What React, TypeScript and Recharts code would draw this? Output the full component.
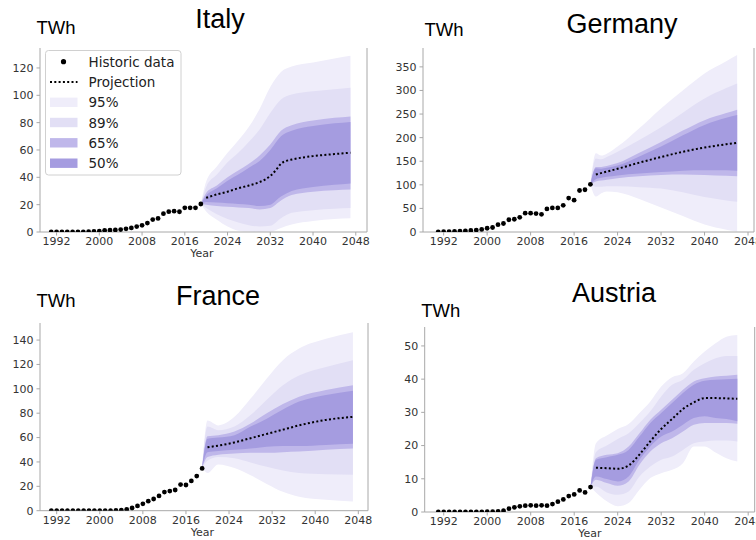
import React from 'react';
import { ComposedChart, Area, Line, XAxis, YAxis, ReferenceLine } from 'recharts';

// ---------- shared categories ----------
const HIST_YEARS = [1991, 1992, 1993, 1994, 1995, 1996, 1997, 1998, 1999, 2000, 2001, 2002, 2003, 2004, 2005, 2006, 2007, 2008, 2009, 2010, 2011, 2012, 2013, 2014, 2015, 2016, 2017, 2018, 2019];
const X_TICKS = [1992, 2000, 2008, 2016, 2024, 2032, 2040, 2048];
const LEGEND_LABELS = ['Historic data', 'Projection', '95%', '89%', '65%', '50%'];

// ---------- Italy ----------
const IT_HIST = [0, 0, 0, 0, 0, 0.05, 0.1, 0.2, 0.4, 0.6, 1.2, 1.4, 1.5, 1.8, 2.3, 3.0, 4.0, 4.9, 6.5, 9.1, 9.9, 13.4, 14.9, 15.2, 14.8, 17.7, 17.7, 17.7, 20.5];
const IT_BAND_YEARS = [2019, 2020, 2022, 2024, 2026, 2028, 2030, 2032, 2034, 2036, 2040, 2044, 2047];
const IT_HI95 = [20.5, 37, 48, 58, 67, 77, 90, 106, 117, 121, 124, 127, 129];
const IT_HI89 = [20.5, 33, 42, 51, 58, 66, 75, 87, 97, 100.5, 103, 104.5, 105.5];
const IT_HI65 = [20.5, 28.5, 34, 40, 45, 50, 56, 64, 74, 78, 81.5, 83.5, 84.5];
const IT_HI50 = [20.5, 26.5, 32, 37.5, 42, 47, 52, 60, 70, 74, 77.5, 79.5, 80.5];
const IT_LO50 = [20.5, 22, 21.5, 21, 20.5, 20, 19, 20, 26, 30, 33, 34.5, 35.5];
const IT_LO65 = [20.5, 20, 19, 18.5, 18, 17.5, 16.5, 17.5, 23, 27, 29.5, 30.5, 31];
const IT_LO89 = [20.5, 17.5, 13, 9.5, 7, 5, 4, 4.5, 10, 14, 16, 17, 17.5];
const IT_LO95 = [20.5, 15, 9, 4, 1, 0.3, 0, 0.3, 3, 5.5, 8, 9.5, 10];
const IT_PROJ_YEARS = [2020, 2022, 2024, 2026, 2028, 2030, 2032, 2033, 2034, 2035, 2036, 2040, 2044, 2047];
const IT_PROJ = [25, 27.5, 29.5, 32, 34, 36.5, 41, 45, 50, 52, 53, 55.5, 57, 58];
const IT_Y_TICKS = [0, 20, 40, 60, 80, 100, 120];

// ---------- Germany ----------
const DE_HIST = [0.3, 0.5, 1, 1.5, 2, 2.5, 3.2, 4, 5.5, 8, 9.5, 15.5, 18, 26, 27, 31, 40, 40, 39, 37.5, 49, 51, 51, 56.5, 72, 67.5, 88, 89.5, 101];
const DE_BAND_YEARS = [2019, 2020, 2021, 2022, 2024, 2028, 2032, 2036, 2040, 2044, 2046];
const DE_HI95 = [101, 167, 162, 166, 181, 220, 262, 300, 336, 362, 375];
const DE_HI89 = [101, 156, 154, 159, 170, 195, 222, 253, 283, 305, 315];
const DE_HI65 = [101, 138, 138, 140, 146, 168, 191, 215, 237, 252, 259];
const DE_HI50 = [101, 135, 134, 136, 141, 160, 181, 205, 227, 242, 248];
const DE_LO50 = [101, 112, 115, 117, 120, 124, 127, 130, 131, 131, 130];
const DE_LO65 = [101, 107, 109, 111, 114, 118, 121, 122, 121, 119, 118];
const DE_LO89 = [101, 96, 96, 97, 97, 95, 92, 84, 74, 67, 64];
const DE_LO95 = [101, 75, 82, 86, 84, 70, 52, 34, 16, 5, 1];
const DE_PROJ_YEARS = [2020, 2022, 2024, 2028, 2032, 2036, 2040, 2044, 2046];
const DE_PROJ = [122, 128, 134, 147, 159, 170, 179, 186, 189];
const DE_Y_TICKS = [0, 50, 100, 150, 200, 250, 300, 350];

// ---------- France ----------
const FR_HIST = [0, 0, 0, 0, 0, 0, 0, 0, 0, 0, 0, 0, 0.2, 0.4, 1.1, 2.2, 3.9, 5.6, 7.8, 9.6, 12.1, 15.3, 16.1, 17.0, 21.4, 21.1, 24.4, 28.4, 34.7];
const FR_BAND_YEARS = [2019, 2020, 2022, 2025, 2028, 2031, 2034, 2037, 2042, 2047];
const FR_HI95 = [35, 74, 70, 77, 92, 108.5, 123.5, 133, 141, 146.5];
const FR_HI89 = [35, 69, 66, 69, 78.5, 91, 103, 111, 118, 123.5];
const FR_HI65 = [35, 61, 62, 65, 71.5, 80, 87.5, 93.5, 99, 103];
const FR_HI50 = [35, 59, 60, 62, 69, 75.5, 83, 89.5, 95, 98.5];
const FR_LO50 = [35, 48, 49, 50, 51, 52.5, 53, 53, 54, 55];
const FR_LO65 = [35, 44, 46, 47, 47.5, 47.5, 48, 48.5, 50, 51];
const FR_LO89 = [35, 41, 44, 43, 39.5, 36, 33, 31, 30, 29.5];
const FR_LO95 = [35, 31, 38, 35, 29, 22, 15.5, 11.5, 9, 7.5];
const FR_PROJ_YEARS = [2020, 2025, 2028, 2031, 2034, 2037, 2042, 2047];
const FR_PROJ = [52, 56, 59.5, 63, 66.5, 70, 74.5, 77];
const FR_Y_TICKS = [0, 20, 40, 60, 80, 100, 120, 140];

// ---------- Austria ----------
const AT_HIST = [0, 0, 0, 0, 0, 0, 0.05, 0.05, 0.06, 0.07, 0.1, 0.2, 0.4, 1.0, 1.4, 1.7, 1.9, 2.0, 1.9, 2.0, 1.9, 2.4, 3.1, 3.8, 4.8, 5.3, 6.5, 5.9, 7.5];
const AT_BAND_YEARS = [2019, 2020, 2022, 2024, 2026, 2028, 2030, 2032, 2034, 2036, 2038, 2040, 2042, 2044, 2046];
const AT_HI95 = [7.5, 20.7, 23, 25, 26.5, 29.8, 33.3, 37.8, 40.6, 41.8, 45.3, 48.3, 50.8, 52.8, 53.3];
const AT_HI89 = [7.5, 18, 20, 22, 23.7, 26.8, 30.3, 34.8, 38.3, 39.8, 42.8, 44.8, 46.3, 47, 47];
const AT_HI65 = [7.5, 16.2, 17.2, 17.7, 19.7, 23.7, 27.8, 30.8, 33.8, 36.8, 39.3, 40.3, 40.8, 41, 41.3];
const AT_HI50 = [7.5, 15.7, 16.5, 17.2, 18.7, 22.7, 26.8, 29.8, 32.8, 35.8, 38.3, 39.5, 39.8, 40, 40.1];
const AT_LO50 = [7.5, 10.7, 9.9, 9.2, 10.7, 15.7, 19.7, 22.7, 24.2, 26.3, 28.3, 28.8, 28.3, 28, 27.3];
const AT_LO65 = [7.5, 9.7, 8.7, 7.9, 9.2, 14.2, 18.2, 20.7, 22.2, 24.2, 26.3, 26.8, 26.8, 26.8, 26.6];
const AT_LO89 = [7.5, 7.7, 5.9, 5.2, 6.2, 10.7, 13.7, 15.7, 16.7, 18.7, 20.7, 21.2, 21.5, 21.5, 21.2];
const AT_LO95 = [7.5, 5.9, 3.2, 1.7, 2.7, 6.7, 10.2, 11.7, 12.7, 14.7, 19.7, 19.7, 17.9, 16.2, 15.2];
const AT_PROJ_YEARS = [2020, 2022, 2024, 2026, 2028, 2030, 2032, 2034, 2036, 2038, 2040, 2042, 2044, 2046];
const AT_PROJ = [13.3, 13.2, 13, 14, 17.3, 21.3, 25, 28, 31, 33, 34.3, 34.3, 34.2, 34.1];
const AT_Y_TICKS = [0, 10, 20, 30, 40, 50];

// ---------- styles ----------
const C95 = '#efedfa';
const C89 = '#e2dff5';
const C65 = '#bfb7ea';
const C50 = '#a59ce0';
const SPINE = '#a8a8a8';
const TICK_TEXT = '#333333';

type PanelCfg = {
  left: number; top: number; width: number; height: number;
  margin: { top: number; right: number; bottom: number; left: number };
  yWidth: number; xHeight: number;
  xDomain: [number, number]; yDomain: [number, number]; yTicks: number[];
  hist: number[]; bandYears: number[];
  hi95: number[]; hi89: number[]; hi65: number[]; hi50: number[];
  lo50: number[]; lo65: number[]; lo89: number[]; lo95: number[];
  projYears: number[]; proj: number[];
};

const PANELS: PanelCfg[] = [
  {
    left: 0, top: 0, width: 378, height: 270,
    margin: { top: 48, right: 11, bottom: 0, left: 0 }, yWidth: 40, xHeight: 38,
    xDomain: [1988.9, 2050.1], yDomain: [0, 134.6], yTicks: IT_Y_TICKS,
    hist: IT_HIST, bandYears: IT_BAND_YEARS,
    hi95: IT_HI95, hi89: IT_HI89, hi65: IT_HI65, hi50: IT_HI50,
    lo50: IT_LO50, lo65: IT_LO65, lo89: IT_LO89, lo95: IT_LO95,
    projYears: IT_PROJ_YEARS, proj: IT_PROJ,
  },
  {
    left: 378, top: 0, width: 378, height: 270,
    margin: { top: 48, right: 2, bottom: 0, left: 0 }, yWidth: 45, xHeight: 38,
    xDomain: [1988.2, 2049.1], yDomain: [0, 390], yTicks: DE_Y_TICKS,
    hist: DE_HIST, bandYears: DE_BAND_YEARS,
    hi95: DE_HI95, hi89: DE_HI89, hi65: DE_HI65, hi50: DE_HI50,
    lo50: DE_LO50, lo65: DE_LO65, lo89: DE_LO89, lo95: DE_LO95,
    projYears: DE_PROJ_YEARS, proj: DE_PROJ,
  },
  {
    left: 0, top: 270, width: 378, height: 270,
    margin: { top: 53, right: 10, bottom: 0, left: 0 }, yWidth: 40, xHeight: 29.3,
    xDomain: [1988.9, 2049.8], yDomain: [0, 154], yTicks: FR_Y_TICKS,
    hist: FR_HIST, bandYears: FR_BAND_YEARS,
    hi95: FR_HI95, hi89: FR_HI89, hi65: FR_HI65, hi50: FR_HI50,
    lo50: FR_LO50, lo65: FR_LO65, lo89: FR_LO89, lo95: FR_LO95,
    projYears: FR_PROJ_YEARS, proj: FR_PROJ,
  },
  {
    left: 378, top: 270, width: 378, height: 270,
    margin: { top: 57, right: 1.3, bottom: 0, left: 0 }, yWidth: 46.7, xHeight: 28,
    xDomain: [1988.5, 2049.2], yDomain: [0, 55.7], yTicks: AT_Y_TICKS,
    hist: AT_HIST, bandYears: AT_BAND_YEARS,
    hi95: AT_HI95, hi89: AT_HI89, hi65: AT_HI65, hi50: AT_HI50,
    lo50: AT_LO50, lo65: AT_LO65, lo89: AT_LO89, lo95: AT_LO95,
    projYears: AT_PROJ_YEARS, proj: AT_PROJ,
  },
];

const tickStyle = { fill: TICK_TEXT, fontSize: 11, fontFamily: 'DejaVu Sans' };

function Panel({ cfg }: { cfg: PanelCfg }) {
  const histRows = HIST_YEARS.map((year, i) => ({ year, v: cfg.hist[i] }));
  const bandRows = cfg.bandYears.map((year, i) => ({
    year,
    b95: [cfg.lo95[i], cfg.hi95[i]],
    b89: [cfg.lo89[i], cfg.hi89[i]],
    b65: [cfg.lo65[i], cfg.hi65[i]],
    b50: [cfg.lo50[i], cfg.hi50[i]],
  }));
  const projRows = cfg.projYears.map((year, i) => ({ year, v: cfg.proj[i] }));
  return (
    <div style={{ position: 'absolute', left: cfg.left, top: cfg.top, width: cfg.width, height: cfg.height }}>
      <ComposedChart width={cfg.width} height={cfg.height} margin={cfg.margin}>
        <XAxis
          type="number" dataKey="year" domain={cfg.xDomain} ticks={X_TICKS} interval={0}
          allowDataOverflow height={cfg.xHeight} tickSize={3.5} tickMargin={2}
          stroke={SPINE} tick={tickStyle} tickLine={{ stroke: SPINE }}
        />
        <YAxis
          type="number" domain={cfg.yDomain} ticks={cfg.yTicks} interval={0}
          allowDataOverflow width={cfg.yWidth} tickSize={3.5} tickMargin={3}
          stroke={SPINE} tick={tickStyle} tickLine={{ stroke: SPINE }}
        />
        <ReferenceLine x={cfg.xDomain[1]} stroke={SPINE} strokeWidth={1} />
        <Area data={bandRows} dataKey="b95" type="monotone" stroke="none" fill={C95} fillOpacity={1} isAnimationActive={false} />
        <Area data={bandRows} dataKey="b89" type="monotone" stroke="none" fill={C89} fillOpacity={1} isAnimationActive={false} />
        <Area data={bandRows} dataKey="b65" type="monotone" stroke="none" fill={C65} fillOpacity={1} isAnimationActive={false} />
        <Area data={bandRows} dataKey="b50" type="monotone" stroke="none" fill={C50} fillOpacity={1} isAnimationActive={false} />
        <Line data={projRows} dataKey="v" type="monotone" stroke="#000" strokeWidth={2} strokeDasharray="2 2.3" dot={false} isAnimationActive={false} />
        <Line data={histRows} dataKey="v" stroke="none" dot={{ r: 2.4, fill: '#000', stroke: 'none' }} isAnimationActive={false} />
      </ComposedChart>
    </div>
  );
}

function Overlay() {
  const titleFont = { fontFamily: 'Liberation Sans', fontSize: 27, fill: '#000' };
  const unitFont = { fontFamily: 'Liberation Sans', fontSize: 18.5, fill: '#000' };
  const yearFont = { fontFamily: 'DejaVu Sans', fontSize: 11, fill: TICK_TEXT };
  const legFont = { fontFamily: 'DejaVu Sans', fontSize: 13.5, fill: '#222' };
  const rowY = [61.7, 82, 102.3, 122.5, 142.8, 163.2];
  const swatches = [C95, C89, C65, C50];
  return (
    <svg width={756} height={540} style={{ position: 'absolute', left: 0, top: 0, pointerEvents: 'none' }}>
      <text x={220} y={28} textAnchor="middle" {...titleFont}>Italy</text>
      <text x={622} y={33} textAnchor="middle" {...titleFont}>Germany</text>
      <text x={218} y={305} textAnchor="middle" {...titleFont}>France</text>
      <text x={614} y={301.5} textAnchor="middle" {...titleFont}>Austria</text>

      <text x={36.5} y={34} {...unitFont}>TWh</text>
      <text x={424.5} y={36} {...unitFont}>TWh</text>
      <text x={36.5} y={307.3} {...unitFont}>TWh</text>
      <text x={421.3} y={316.7} {...unitFont}>TWh</text>

      <text x={202} y={257} textAnchor="middle" {...yearFont}>Year</text>
      <text x={202.5} y={536} textAnchor="middle" {...yearFont}>Year</text>
      <text x={590} y={536.5} textAnchor="middle" {...yearFont}>Year</text>

      <rect x={45.5} y={50.5} width={135.5} height={124.5} rx={3} fill="#ffffff" fillOpacity={0.85} stroke="#d0d0d0" />
      <circle cx={63.5} cy={rowY[0]} r={2.6} fill="#000" />
      <line x1={50} x2={77.5} y1={rowY[1]} y2={rowY[1]} stroke="#000" strokeWidth={2} strokeDasharray="2 2.3" />
      {swatches.map((c, i) => (
        <rect key={c} x={50} y={rowY[i + 2] - 4.7} width={27.5} height={9.4} fill={c} />
      ))}
      {LEGEND_LABELS.map((label, i) => (
        <text key={label} x={88.5} y={rowY[i] + 5} {...legFont}>{label}</text>
      ))}
    </svg>
  );
}

export default function App() {
  return (
    <div style={{ position: 'absolute', left: 0, top: 0, width: 756, height: 540, background: '#fff', overflow: 'hidden' }}>
      {PANELS.map((cfg, i) => <Panel key={i} cfg={cfg} />)}
      <Overlay />
    </div>
  );
}
